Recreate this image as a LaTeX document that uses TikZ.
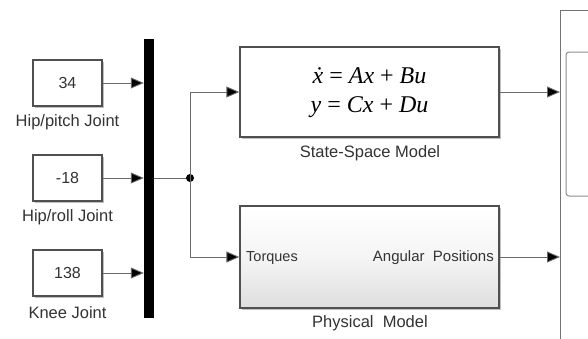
\documentclass[tikz,border=0pt]{standalone}
\usepackage{fontspec}
\setmainfont{Liberation Sans}
\newfontfamily\eqserif{Liberation Serif}
\usetikzlibrary{arrows.meta,positioning}
\definecolor{edgegray}{HTML}{505050}
\definecolor{linegray}{HTML}{6A6A6A}
\definecolor{txtgray}{HTML}{333333}
\tikzset{
  blockbox/.style={draw=edgegray, line width=1.3pt, fill=white, inner sep=0pt, text=txtgray},
  constbox/.style={blockbox, minimum width=69pt, minimum height=46pt, font=\fontsize{16}{18}\selectfont},
  lbl/.style={font=\fontsize{16.5}{18}\selectfont, text=txtgray, inner sep=0pt},
  sig/.style={draw=linegray, line width=0.9pt, -{Triangle[length=13pt,width=11pt,fill=black]}},
  wire/.style={draw=linegray, line width=0.9pt},
}
\begin{document}
\begin{tikzpicture}[x=1pt,y=-1pt]
\clip (0,0) rectangle (588,338);
\fill[white] (0,0) rectangle (588,338);

% constant blocks
\fill[black!25] (34.5,61.5) rectangle (104,108);
\node[constbox] (c1) at (67.5,83) {34};
\fill[black!25] (34.5,156.5) rectangle (104,203);
\node[constbox] (c2) at (67.5,178) {-18};
\fill[black!25] (34.5,251.5) rectangle (104,298);
\node[constbox] (c3) at (67.5,273) {138};
\node[lbl] (l1) at ([yshift=-16pt]c1.south) {Hip/pitch Joint};
\node[lbl] (l2) at ([yshift=-16pt]c2.south) {Hip/roll Joint};
\node[lbl] (l3) at ([yshift=-16pt]c3.south) {Knee Joint};

% mux bar
\node[fill=black, draw=none, minimum width=10pt, minimum height=279pt, inner sep=0pt] (mux) at (149,178.5) {};

\draw[sig] (c1.east) -- (c1.east -| mux.west);
\draw[sig] (c2.east) -- (c2.east -| mux.west);
\draw[sig] (c3.east) -- (c3.east -| mux.west);

% state-space block
\fill[black!25] (241.5,48.5) rectangle (501,139);
\node[blockbox, minimum width=259pt, minimum height=90pt] (ss) at (369.5,92) {};
\node[font=\eqserif\fontsize{24}{33}\selectfont, text=black, inner sep=0pt] (eq1) at (369.5,76) {\textit{\.x} = \textit{Ax} + \textit{Bu}};
\node[font=\eqserif\fontsize{24}{33}\selectfont, text=black, inner sep=0pt] (eq2) at (369.5,107) {\textit{y} = \textit{Cx} + \textit{Du}};
\node[lbl] (lss) at (370,153) {State-Space Model};

% physical model block
\fill[black!25] (241.5,207.5) rectangle (501,310);
\node[blockbox, shading=axis, top color=white, bottom color=black!13, middle color=white!96!black,
  minimum width=259pt, minimum height=102pt] (pm) at (369.5,257) {};
\node[font=\fontsize{14.5}{16}\selectfont, text=txtgray, anchor=west, inner sep=0pt] (tq) at (246,258) {Torques};
\node[font=\fontsize{15}{16}\selectfont, text=txtgray, anchor=east, inner sep=0pt] (ap) at (494,258) {Angular\ \ Positions};
\node[lbl] (lpm) at (370,323) {Physical\ \ Model};

% scope (partially visible)
\node[draw=black!55, line width=1pt, fill=white, anchor=north west, minimum width=80pt, minimum height=400pt, inner sep=0pt] (scope) at (560,9.5) {};
\draw[draw=black!45, line width=1pt, rounded corners=3pt] (566,52) rectangle (620,196);

% junction and branches
\coordinate (j) at (190,178);
\draw[wire] (mux.east |- j) -- (j);
\fill[black] (j) circle (4);
\draw[sig] (j) |- (ss.west);
\draw[sig] (j) |- (pm.west);

% outputs
\draw[sig] (ss.east) -- (ss.east -| scope.west);
\draw[sig] (pm.east) -- (pm.east -| scope.west);
\end{tikzpicture}
\end{document}
